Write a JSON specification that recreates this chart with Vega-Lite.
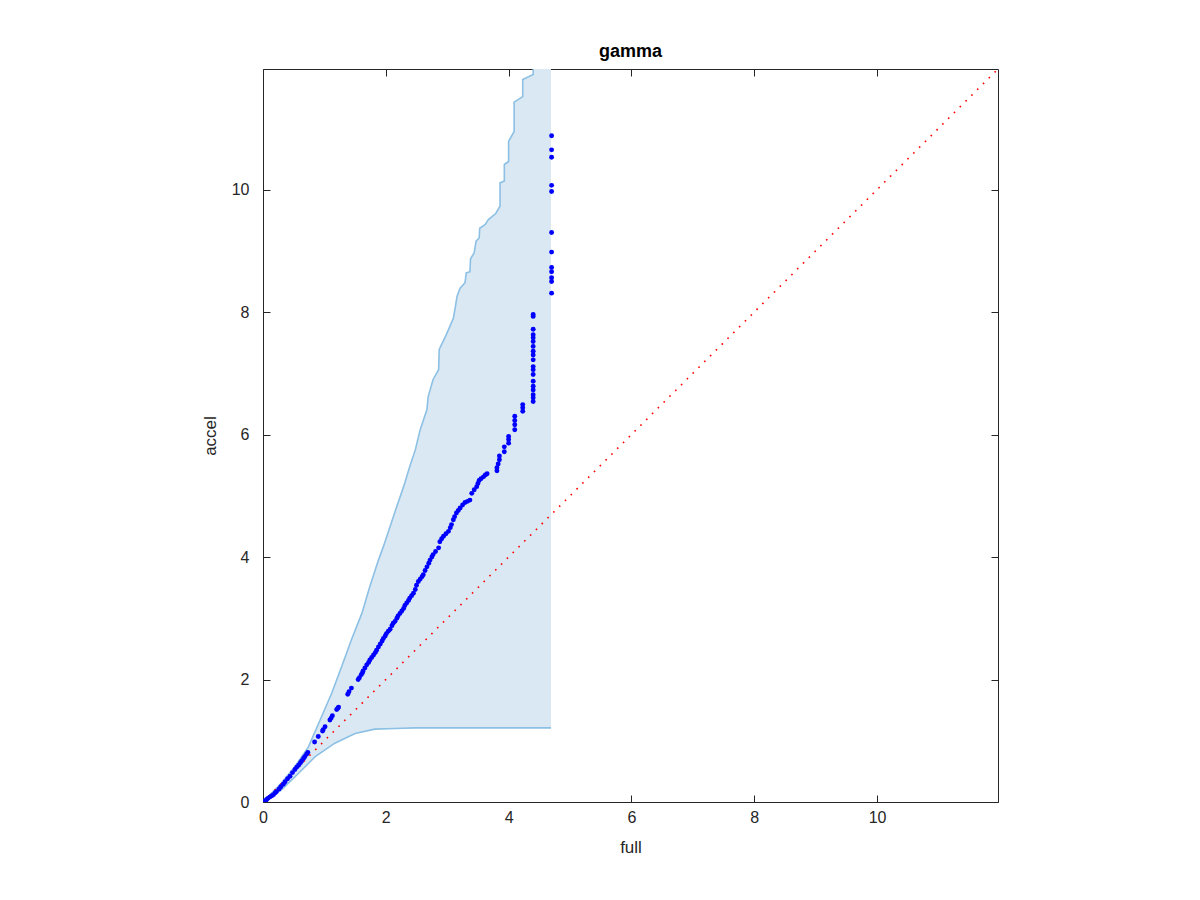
{
  "$schema": "https://vega.github.io/schema/vega-lite/v6.json",
  "width": 735,
  "height": 733,
  "autosize": {"type": "none"},
  "padding": {"left": 263, "top": 69, "right": 202, "bottom": 98},
  "background": "white",
  "config": {
    "view": {"stroke": null},
    "axis": {
      "domainColor": "#262626",
      "tickColor": "#262626",
      "labelColor": "#262626",
      "titleColor": "#262626",
      "labelFont": "Liberation Sans",
      "titleFont": "Liberation Sans",
      "labelFontSize": 16,
      "titleFontSize": 17,
      "titleFontWeight": "normal",
      "grid": false,
      "domainWidth": 1,
      "tickWidth": 1,
      "zindex": 1
    }
  },
  "title": {
    "text": "gamma",
    "font": "Liberation Sans",
    "fontSize": 18,
    "fontWeight": "bold",
    "color": "#000000",
    "anchor": "middle",
    "offset": 8
  },
  "datasets": {
    "upper": [
      {"i": 0, "x": 0, "y": 0},
      {"i": 1, "x": 0.30, "y": 0.31},
      {"i": 2, "x": 0.52, "y": 0.58},
      {"i": 3, "x": 0.74, "y": 0.90},
      {"i": 4, "x": 0.93, "y": 1.34},
      {"i": 5, "x": 1.12, "y": 1.78},
      {"i": 6, "x": 1.28, "y": 2.21},
      {"i": 7, "x": 1.44, "y": 2.65},
      {"i": 8, "x": 1.61, "y": 3.08},
      {"i": 9, "x": 1.74, "y": 3.52},
      {"i": 10, "x": 1.88, "y": 3.95},
      {"i": 11, "x": 1.96, "y": 4.17},
      {"i": 12, "x": 2.07, "y": 4.50},
      {"i": 13, "x": 2.18, "y": 4.83},
      {"i": 14, "x": 2.29, "y": 5.15},
      {"i": 15, "x": 2.39, "y": 5.48},
      {"i": 16, "x": 2.48, "y": 5.75},
      {"i": 17, "x": 2.56, "y": 6.08},
      {"i": 18, "x": 2.67, "y": 6.41},
      {"i": 19, "x": 2.69, "y": 6.62},
      {"i": 20, "x": 2.77, "y": 6.90},
      {"i": 21, "x": 2.86, "y": 7.06},
      {"i": 22, "x": 2.87, "y": 7.39},
      {"i": 23, "x": 2.98, "y": 7.62},
      {"i": 24, "x": 3.10, "y": 7.90},
      {"i": 25, "x": 3.13, "y": 8.07},
      {"i": 26, "x": 3.16, "y": 8.26},
      {"i": 27, "x": 3.21, "y": 8.39},
      {"i": 28, "x": 3.29, "y": 8.48},
      {"i": 29, "x": 3.31, "y": 8.64},
      {"i": 30, "x": 3.37, "y": 8.66},
      {"i": 31, "x": 3.38, "y": 8.87},
      {"i": 32, "x": 3.44, "y": 8.97},
      {"i": 33, "x": 3.47, "y": 9.16},
      {"i": 34, "x": 3.52, "y": 9.21},
      {"i": 35, "x": 3.53, "y": 9.37},
      {"i": 36, "x": 3.62, "y": 9.43},
      {"i": 37, "x": 3.67, "y": 9.51},
      {"i": 38, "x": 3.79, "y": 9.61},
      {"i": 39, "x": 3.86, "y": 9.73},
      {"i": 40, "x": 3.86, "y": 10.11},
      {"i": 41, "x": 3.93, "y": 10.14},
      {"i": 42, "x": 3.93, "y": 10.41},
      {"i": 43, "x": 4.00, "y": 10.46},
      {"i": 44, "x": 4.00, "y": 10.79},
      {"i": 45, "x": 4.09, "y": 10.95},
      {"i": 46, "x": 4.09, "y": 11.43},
      {"i": 47, "x": 4.23, "y": 11.52},
      {"i": 48, "x": 4.23, "y": 11.80},
      {"i": 49, "x": 4.40, "y": 11.88},
      {"i": 50, "x": 4.40, "y": 11.97}
    ],
    "upperArea": [
      {"x": 0, "y": 0},
      {"x": 0.30, "y": 0.31},
      {"x": 0.52, "y": 0.58},
      {"x": 0.74, "y": 0.90},
      {"x": 0.93, "y": 1.34},
      {"x": 1.12, "y": 1.78},
      {"x": 1.28, "y": 2.21},
      {"x": 1.44, "y": 2.65},
      {"x": 1.61, "y": 3.08},
      {"x": 1.74, "y": 3.52},
      {"x": 1.88, "y": 3.95},
      {"x": 1.96, "y": 4.17},
      {"x": 2.07, "y": 4.50},
      {"x": 2.18, "y": 4.83},
      {"x": 2.29, "y": 5.15},
      {"x": 2.39, "y": 5.48},
      {"x": 2.48, "y": 5.75},
      {"x": 2.56, "y": 6.08},
      {"x": 2.67, "y": 6.41},
      {"x": 2.69, "y": 6.62},
      {"x": 2.77, "y": 6.90},
      {"x": 2.86, "y": 7.06},
      {"x": 2.87, "y": 7.39},
      {"x": 2.98, "y": 7.62},
      {"x": 3.10, "y": 7.90},
      {"x": 3.13, "y": 8.07},
      {"x": 3.16, "y": 8.26},
      {"x": 3.21, "y": 8.39},
      {"x": 3.29, "y": 8.48},
      {"x": 3.31, "y": 8.64},
      {"x": 3.37, "y": 8.66},
      {"x": 3.38, "y": 8.87},
      {"x": 3.44, "y": 8.97},
      {"x": 3.47, "y": 9.16},
      {"x": 3.52, "y": 9.21},
      {"x": 3.53, "y": 9.37},
      {"x": 3.62, "y": 9.43},
      {"x": 3.67, "y": 9.51},
      {"x": 3.79, "y": 9.61},
      {"x": 3.86, "y": 9.73},
      {"x": 3.861, "y": 10.11},
      {"x": 3.93, "y": 10.14},
      {"x": 3.931, "y": 10.41},
      {"x": 4.00, "y": 10.46},
      {"x": 4.001, "y": 10.79},
      {"x": 4.09, "y": 10.95},
      {"x": 4.091, "y": 11.43},
      {"x": 4.23, "y": 11.52},
      {"x": 4.231, "y": 11.80},
      {"x": 4.40, "y": 11.88},
      {"x": 4.401, "y": 11.97},
      {"x": 4.69, "y": 11.97}
    ],
    "lower": [
      {"i": 0, "x": 0, "y": 0},
      {"i": 1, "x": 0.30, "y": 0.20},
      {"i": 2, "x": 0.58, "y": 0.47},
      {"i": 3, "x": 0.85, "y": 0.74},
      {"i": 4, "x": 1.17, "y": 0.96},
      {"i": 5, "x": 1.50, "y": 1.12},
      {"i": 6, "x": 1.82, "y": 1.19},
      {"i": 7, "x": 2.15, "y": 1.20},
      {"i": 8, "x": 2.48, "y": 1.21},
      {"i": 9, "x": 4.69, "y": 1.21}
    ],
    "diag": [
      {"x": 0, "y": 0},
      {"x": 11.97, "y": 11.97}
    ],
    "pts": [
      {"x": 0, "y": 0}, {"x": 0.02, "y": 0.01}, {"x": 0.04, "y": 0.02}, {"x": 0.06, "y": 0.04},
      {"x": 0.08, "y": 0.06}, {"x": 0.11, "y": 0.08}, {"x": 0.14, "y": 0.10}, {"x": 0.17, "y": 0.12},
      {"x": 0.20, "y": 0.15}, {"x": 0.22, "y": 0.17}, {"x": 0.26, "y": 0.21}, {"x": 0.29, "y": 0.25},
      {"x": 0.33, "y": 0.29}, {"x": 0.36, "y": 0.33}, {"x": 0.40, "y": 0.38}, {"x": 0.44, "y": 0.42},
      {"x": 0.48, "y": 0.48}, {"x": 0.52, "y": 0.53}, {"x": 0.55, "y": 0.57}, {"x": 0.58, "y": 0.60},
      {"x": 0.61, "y": 0.64}, {"x": 0.63, "y": 0.67}, {"x": 0.66, "y": 0.71}, {"x": 0.68, "y": 0.74},
      {"x": 0.71, "y": 0.78}, {"x": 0.73, "y": 0.81}, {"x": 0.84, "y": 0.98}, {"x": 0.90, "y": 1.07},
      {"x": 0.97, "y": 1.16}, {"x": 0.98, "y": 1.18}, {"x": 1.01, "y": 1.23}, {"x": 1.09, "y": 1.34},
      {"x": 1.11, "y": 1.37}, {"x": 1.13, "y": 1.41}, {"x": 1.20, "y": 1.51}, {"x": 1.22, "y": 1.53},
      {"x": 1.23, "y": 1.55}, {"x": 1.38, "y": 1.76}, {"x": 1.40, "y": 1.80}, {"x": 1.44, "y": 1.86},
      {"x": 1.55, "y": 2.00}, {"x": 1.57, "y": 2.03}, {"x": 1.60, "y": 2.08}, {"x": 1.62, "y": 2.11},
      {"x": 1.63, "y": 2.14}, {"x": 1.66, "y": 2.19}, {"x": 1.69, "y": 2.24}, {"x": 1.72, "y": 2.28},
      {"x": 1.74, "y": 2.32}, {"x": 1.77, "y": 2.36}, {"x": 1.80, "y": 2.40}, {"x": 1.83, "y": 2.44},
      {"x": 1.85, "y": 2.48}, {"x": 1.88, "y": 2.53}, {"x": 1.91, "y": 2.58}, {"x": 1.94, "y": 2.63},
      {"x": 1.96, "y": 2.67}, {"x": 1.99, "y": 2.71}, {"x": 2.01, "y": 2.75}, {"x": 2.04, "y": 2.79},
      {"x": 2.07, "y": 2.82}, {"x": 2.10, "y": 2.88}, {"x": 2.12, "y": 2.92}, {"x": 2.15, "y": 2.95},
      {"x": 2.18, "y": 3.00}, {"x": 2.20, "y": 3.04}, {"x": 2.23, "y": 3.08}, {"x": 2.26, "y": 3.12},
      {"x": 2.29, "y": 3.16}, {"x": 2.31, "y": 3.21}, {"x": 2.34, "y": 3.25}, {"x": 2.37, "y": 3.29},
      {"x": 2.39, "y": 3.33}, {"x": 2.42, "y": 3.37}, {"x": 2.45, "y": 3.41}, {"x": 2.48, "y": 3.47},
      {"x": 2.50, "y": 3.54}, {"x": 2.53, "y": 3.60}, {"x": 2.56, "y": 3.64}, {"x": 2.59, "y": 3.68},
      {"x": 2.61, "y": 3.71}, {"x": 2.64, "y": 3.78}, {"x": 2.67, "y": 3.84}, {"x": 2.70, "y": 3.90},
      {"x": 2.72, "y": 3.95}, {"x": 2.75, "y": 4.00}, {"x": 2.77, "y": 4.04}, {"x": 2.81, "y": 4.09},
      {"x": 2.86, "y": 4.15}, {"x": 2.88, "y": 4.25}, {"x": 2.91, "y": 4.30}, {"x": 2.94, "y": 4.34},
      {"x": 2.98, "y": 4.38}, {"x": 3.02, "y": 4.42}, {"x": 3.05, "y": 4.48}, {"x": 3.07, "y": 4.53},
      {"x": 3.10, "y": 4.61}, {"x": 3.12, "y": 4.66}, {"x": 3.15, "y": 4.72}, {"x": 3.18, "y": 4.76},
      {"x": 3.21, "y": 4.80}, {"x": 3.25, "y": 4.85}, {"x": 3.29, "y": 4.89}, {"x": 3.33, "y": 4.91},
      {"x": 3.37, "y": 4.93}, {"x": 3.40, "y": 5.04}, {"x": 3.44, "y": 5.10}, {"x": 3.48, "y": 5.15},
      {"x": 3.50, "y": 5.20}, {"x": 3.52, "y": 5.25}, {"x": 3.55, "y": 5.28}, {"x": 3.59, "y": 5.31},
      {"x": 3.62, "y": 5.34}, {"x": 3.65, "y": 5.36}, {"x": 3.81, "y": 5.41}, {"x": 3.81, "y": 5.46},
      {"x": 3.83, "y": 5.52}, {"x": 3.85, "y": 5.59}, {"x": 3.85, "y": 5.65}, {"x": 3.93, "y": 5.72},
      {"x": 3.93, "y": 5.80}, {"x": 4.00, "y": 5.86}, {"x": 4.00, "y": 5.92}, {"x": 4.00, "y": 5.97},
      {"x": 4.10, "y": 6.08}, {"x": 4.10, "y": 6.16}, {"x": 4.10, "y": 6.23}, {"x": 4.10, "y": 6.30},
      {"x": 4.23, "y": 6.38}, {"x": 4.23, "y": 6.44}, {"x": 4.23, "y": 6.49},
      {"x": 4.40, "y": 6.54}, {"x": 4.40, "y": 6.60}, {"x": 4.40, "y": 6.65}, {"x": 4.40, "y": 6.73},
      {"x": 4.40, "y": 6.79}, {"x": 4.40, "y": 6.87}, {"x": 4.40, "y": 6.98}, {"x": 4.40, "y": 7.06},
      {"x": 4.40, "y": 7.11}, {"x": 4.40, "y": 7.22}, {"x": 4.40, "y": 7.30}, {"x": 4.40, "y": 7.36},
      {"x": 4.40, "y": 7.44}, {"x": 4.40, "y": 7.52}, {"x": 4.40, "y": 7.58}, {"x": 4.40, "y": 7.63},
      {"x": 4.40, "y": 7.72}, {"x": 4.40, "y": 7.93}, {"x": 4.40, "y": 7.96},
      {"x": 4.70, "y": 8.31}, {"x": 4.70, "y": 8.50}, {"x": 4.70, "y": 8.56}, {"x": 4.70, "y": 8.66},
      {"x": 4.70, "y": 8.73}, {"x": 4.70, "y": 8.98}, {"x": 4.70, "y": 9.30}, {"x": 4.70, "y": 9.97},
      {"x": 4.70, "y": 10.07}, {"x": 4.70, "y": 10.53}, {"x": 4.70, "y": 10.65}, {"x": 4.70, "y": 10.88}
    ]
  },
  "resolve": {"axis": {"x": "independent", "y": "independent"}},
  "layer": [
    {
      "data": {"name": "upperArea"},
      "mark": {"type": "area", "fill": "#dae8f3", "fillOpacity": 1, "stroke": null, "clip": true},
      "encoding": {
        "x": {"field": "x", "type": "quantitative", "scale": {"domain": [0, 11.97], "nice": false, "zero": false},
          "axis": {"orient": "bottom", "values": [0, 2, 4, 6, 8, 10], "tickSize": -7, "labelPadding": 14, "title": "full", "titlePadding": 14, "domain": true, "ticks": true, "labelFlush": false}},
        "y": {"field": "y", "type": "quantitative", "scale": {"domain": [0, 11.97], "nice": false, "zero": false},
          "axis": {"orient": "left", "values": [0, 2, 4, 6, 8, 10], "tickSize": -7, "labelPadding": 21, "title": "accel", "titlePadding": 12, "domain": true, "ticks": true, "labelFlush": false}},
        "y2": {"datum": 0}
      }
    },
    {
      "data": {"name": "lower"},
      "mark": {"type": "area", "fill": "#ffffff", "fillOpacity": 1, "stroke": null, "clip": true},
      "encoding": {
        "x": {"field": "x", "type": "quantitative", "axis": null},
        "y": {"field": "y", "type": "quantitative", "axis": null},
        "y2": {"datum": 0}
      }
    },
    {
      "data": {"name": "upper"},
      "mark": {"type": "line", "color": "#8cc0e4", "strokeWidth": 1.6, "clip": true},
      "encoding": {
        "x": {"field": "x", "type": "quantitative", "axis": null},
        "y": {"field": "y", "type": "quantitative", "axis": null},
        "order": {"field": "i", "type": "quantitative"}
      }
    },
    {
      "data": {"name": "lower"},
      "mark": {"type": "line", "color": "#8cc0e4", "strokeWidth": 1.6, "clip": true},
      "encoding": {
        "x": {"field": "x", "type": "quantitative", "axis": null},
        "y": {"field": "y", "type": "quantitative", "axis": null},
        "order": {"field": "i", "type": "quantitative"}
      }
    },
    {
      "data": {"name": "diag"},
      "mark": {"type": "line", "color": "#ff0000", "strokeWidth": 1.6, "strokeDash": [1.6, 6.6], "clip": true},
      "encoding": {
        "x": {"field": "x", "type": "quantitative",
          "axis": {"orient": "top", "values": [0, 2, 4, 6, 8, 10], "tickSize": -7, "labels": false, "title": null, "domain": true, "ticks": true}},
        "y": {"field": "y", "type": "quantitative",
          "axis": {"orient": "right", "values": [0, 2, 4, 6, 8, 10], "tickSize": -7, "labels": false, "title": null, "domain": true, "ticks": true}}
      }
    },
    {
      "data": {"name": "pts"},
      "mark": {"type": "circle", "color": "#0000ff", "size": 24, "opacity": 1, "clip": true},
      "encoding": {
        "x": {"field": "x", "type": "quantitative", "axis": null},
        "y": {"field": "y", "type": "quantitative", "axis": null}
      }
    }
  ]
}
